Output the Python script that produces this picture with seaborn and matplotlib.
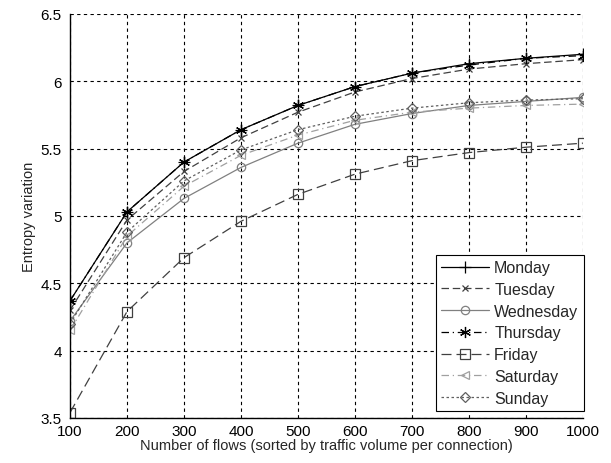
import pandas as pd
import matplotlib
matplotlib.use("Agg")
import matplotlib.pyplot as plt
import seaborn as sns

# values
flows = [100, 200, 300, 400, 500, 600, 700, 800, 900, 1000]
days = ["Monday", "Tuesday", "Wednesday", "Thursday", "Friday", "Saturday", "Sunday"]
monday = [4.37, 5.03, 5.40, 5.64, 5.82, 5.96, 6.06, 6.13, 6.17, 6.20]
tuesday = [4.30, 4.97, 5.33, 5.58, 5.77, 5.92, 6.02, 6.09, 6.13, 6.16]
wednesday = [4.22, 4.80, 5.13, 5.36, 5.54, 5.68, 5.76, 5.82, 5.85, 5.88]
thursday = [4.37, 5.03, 5.40, 5.64, 5.82, 5.96, 6.06, 6.12, 6.17, 6.19]
friday = [3.54, 4.29, 4.69, 4.96, 5.16, 5.31, 5.41, 5.47, 5.51, 5.54]
saturday = [4.15, 4.85, 5.22, 5.45, 5.60, 5.71, 5.77, 5.80, 5.82, 5.83]
sunday = [4.20, 4.88, 5.26, 5.49, 5.64, 5.74, 5.80, 5.84, 5.86, 5.87]


def main():
    series = [monday, tuesday, wednesday, thursday, friday, saturday, sunday]
    df = pd.DataFrame({"flows": flows})
    for day, vals in zip(days, series):
        df[day] = vals

    sns.set_style("white")
    plt.rcParams["font.family"] = ["Liberation Sans", "DejaVu Sans"]

    colors = ["#000000", "#404040", "#808080", "#000000", "#404040", "#a0a0a0", "#606060"]
    dashes = [None, (0, (6, 3)), None, (0, (6, 3, 1, 3)),
              (0, (8, 4)), (0, (6, 3, 1, 3)), (0, (2, 2))]
    markers = ["+", "x", "o", (6, 2, 0), "s", "<", "D"]
    msizes = [9, 5, 6, 8, 7, 6, 5]

    fig = plt.figure(figsize=(6.11, 4.64), dpi=100)
    ax = fig.add_axes([0.1146, 0.097, 0.8394, 0.871])
    for day, c, d, m, ms in zip(days, colors, dashes, markers, msizes):
        ls = "-" if d is None else d
        sns.lineplot(data=df, x="flows", y=day, ax=ax, color=c, linestyle=ls,
                     marker=m, markersize=ms, markerfacecolor="none",
                     markeredgecolor=c, markeredgewidth=0.9, linewidth=0.9,
                     label=day)

    ax.set_xlim(100, 1000)
    ax.set_ylim(3.5, 6.5)
    ax.set_xticks(flows)
    ax.set_yticks([3.5, 4, 4.5, 5, 5.5, 6, 6.5])
    ax.set_yticklabels(["3.5", "4", "4.5", "5", "5.5", "6", "6.5"])
    ax.grid(True, color="black", linestyle=(0, (3, 3)), linewidth=0.8)
    for side in ["top", "right"]:
        ax.spines[side].set_visible(False)
    for side in ["left", "bottom"]:
        ax.spines[side].set_color("black")
        ax.spines[side].set_linewidth(1.0)
    ax.tick_params(direction="in", length=4, labelsize=11, colors="black")
    ax.tick_params(axis="x", pad=4)
    ax.tick_params(axis="y", pad=6)
    ax.set_xlabel("Number of flows (sorted by traffic volume per connection)", fontsize=10.5, labelpad=0)
    ax.set_ylabel("Entropy variation", fontsize=10.5, labelpad=3)

    leg = ax.legend(loc="lower right", bbox_to_anchor=(1.002, 0.017), fontsize=11.5,
                    frameon=True, fancybox=False, edgecolor="black", framealpha=1,
                    handlelength=3.0, borderaxespad=0.0, labelspacing=0.42,
                    borderpad=0.35, handletextpad=0.3)
    leg.get_frame().set_linewidth(0.8)

    fig.savefig("out.png", dpi=100)


if __name__ == "__main__":
    main()
